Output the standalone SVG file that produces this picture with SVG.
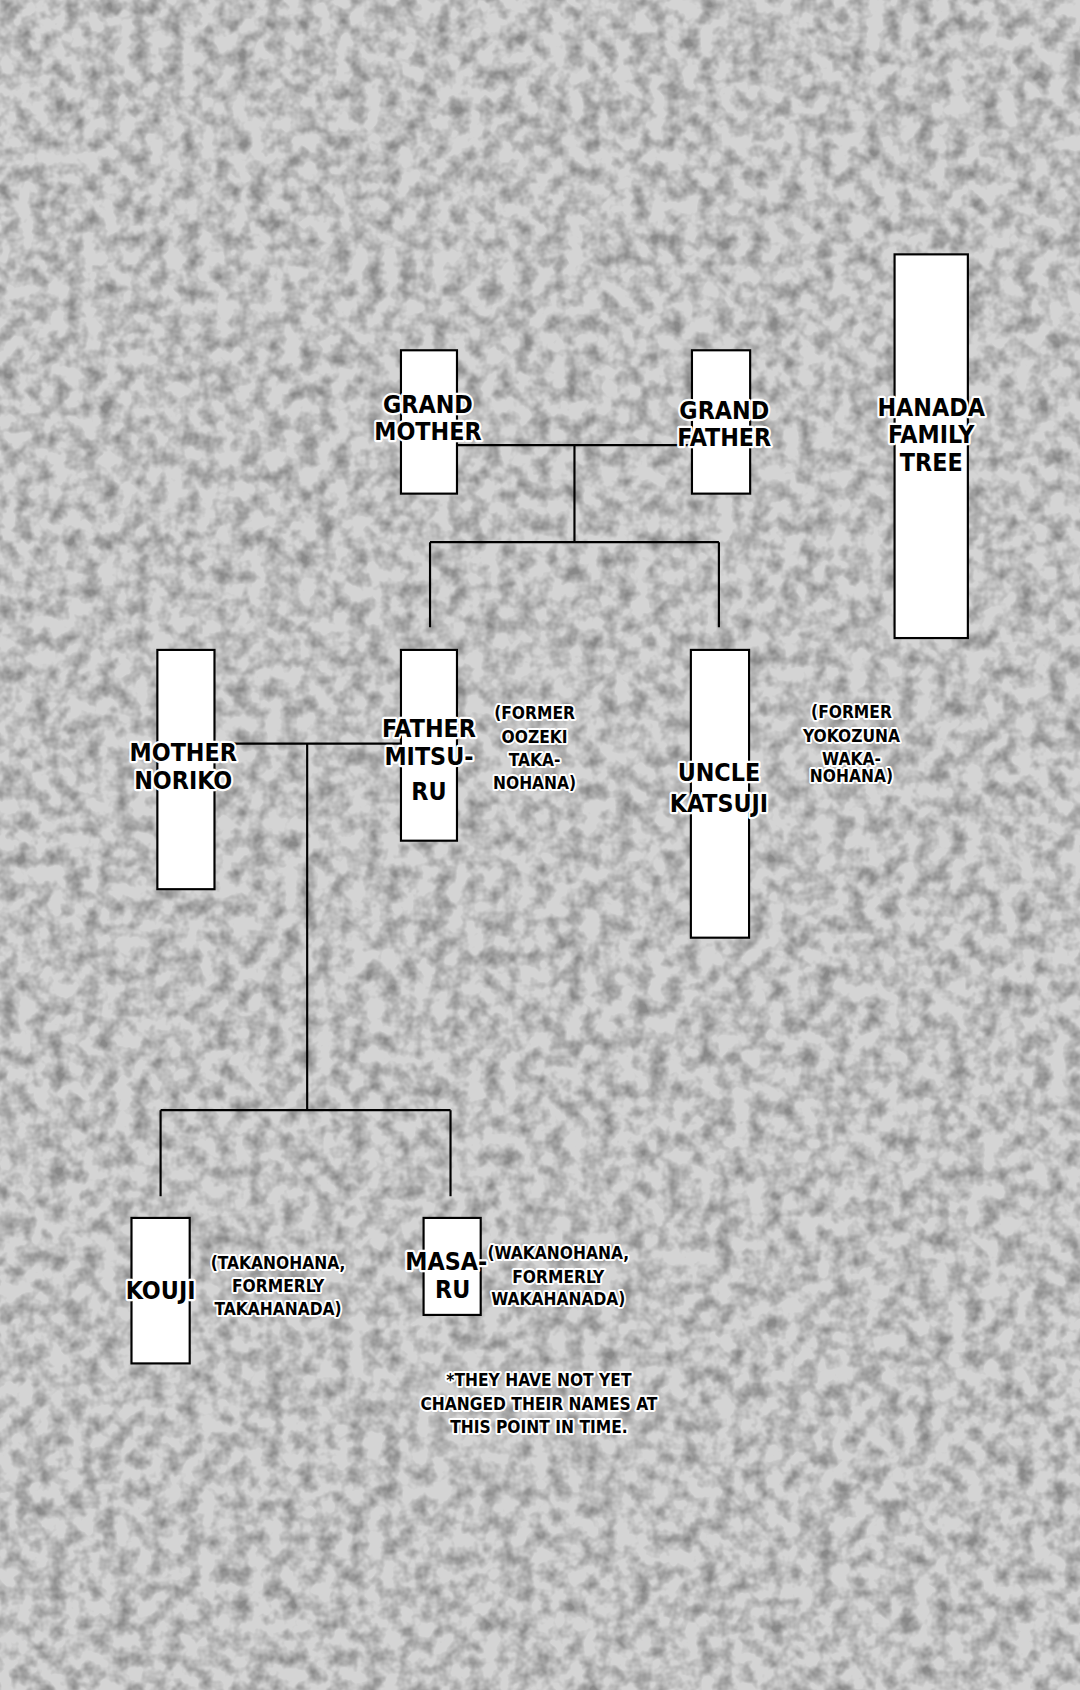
<svg xmlns="http://www.w3.org/2000/svg" width="1080" height="1690" viewBox="0 0 1080 1690">
<defs>
<filter id="noise" x="0" y="0" width="100%" height="100%">
<feTurbulence type="fractalNoise" baseFrequency="0.06" numOctaves="3" seed="4"/>
<feColorMatrix type="matrix" values="0 0 0 0 0.25  0 0 0 0 0.25  0 0 0 0 0.25  0 0 0 -2.2 1.35"/>
</filter>
<style>
.box{fill:#fff;stroke:#000;stroke-width:2}
.ln{stroke:#000;stroke-width:2;fill:none}
.t{font-family:"DejaVu Sans Condensed","DejaVu Sans",sans-serif;font-weight:bold;font-size:23px;text-anchor:middle;fill:#000;stroke:#fff;stroke-width:4;paint-order:stroke;stroke-linejoin:round}
.s{font-family:"DejaVu Sans Condensed","DejaVu Sans",sans-serif;font-weight:bold;font-size:16px;text-anchor:middle;fill:#000;stroke:#fff;stroke-width:3.5;paint-order:stroke;stroke-linejoin:round}
</style>
</defs>
<rect width="1080" height="1690" fill="#d4d4d4"/>
<rect width="1080" height="1690" filter="url(#noise)"/>
<g transform="scale(1.0778)">
<g id="connectors">
<path class="ln" d="M424 413H642M533 413V503M399 503H667M399 503V582M667 503V582"/>
<path class="ln" d="M199 690H372M285 690V1030M149 1030H418M149 1030V1110M418 1030V1110"/>
</g>
<g id="title"><rect class="box" x="830" y="236" width="68" height="356"/>
<text class="t" x="864" y="386">HANADA</text><text class="t" x="864" y="411">FAMILY</text><text class="t" x="864" y="437">TREE</text></g>
<g id="grandmother"><rect class="box" x="372" y="325" width="52" height="133"/>
<text class="t" x="397" y="383">GRAND</text><text class="t" x="397" y="408">MOTHER</text></g>
<g id="grandfather"><rect class="box" x="642" y="325" width="54" height="133"/>
<text class="t" x="672" y="389">GRAND</text><text class="t" x="672" y="414">FATHER</text></g>
<g id="father"><rect class="box" x="372" y="603" width="52" height="177"/>
<text class="t" x="398" y="684">FATHER</text><text class="t" x="398" y="710">MITSU-</text><text class="t" x="398" y="742">RU</text>
<text class="s" x="496" y="667">(FORMER</text><text class="s" x="496" y="689">OOZEKI</text><text class="s" x="496" y="711">TAKA-</text><text class="s" x="496" y="732">NOHANA)</text></g>
<g id="uncle"><rect class="box" x="641" y="603" width="54" height="267"/>
<text class="t" x="667" y="725">UNCLE</text><text class="t" x="667" y="753">KATSUJI</text>
<text class="s" x="790" y="666">(FORMER</text><text class="s" x="790" y="688">YOKOZUNA</text><text class="s" x="790" y="710">WAKA-</text><text class="s" x="790" y="726">NOHANA)</text></g>
<g id="mother"><rect class="box" x="146" y="603" width="53" height="222"/>
<text class="t" x="170" y="706">MOTHER</text><text class="t" x="170" y="732">NORIKO</text></g>
<g id="kouji"><rect class="box" x="122" y="1130" width="54" height="135"/>
<text class="t" x="149" y="1205">KOUJI</text>
<text class="s" x="258" y="1177">(TAKANOHANA,</text><text class="s" x="258" y="1199">FORMERLY</text><text class="s" x="258" y="1220">TAKAHANADA)</text></g>
<g id="masaru"><rect class="box" x="393" y="1130" width="53" height="90"/>
<text class="s" x="518" y="1168">(WAKANOHANA,</text><text class="s" x="518" y="1190">FORMERLY</text><text class="s" x="518" y="1211">WAKAHANADA)</text>
<text class="t" x="414" y="1178">MASA-</text><text class="t" x="420" y="1204">RU</text></g>
<g id="note">
<text class="s" x="500" y="1286">*THEY HAVE NOT YET</text><text class="s" x="500" y="1308">CHANGED THEIR NAMES AT</text><text class="s" x="500" y="1330">THIS POINT IN TIME.</text></g>
</g>
</svg>
